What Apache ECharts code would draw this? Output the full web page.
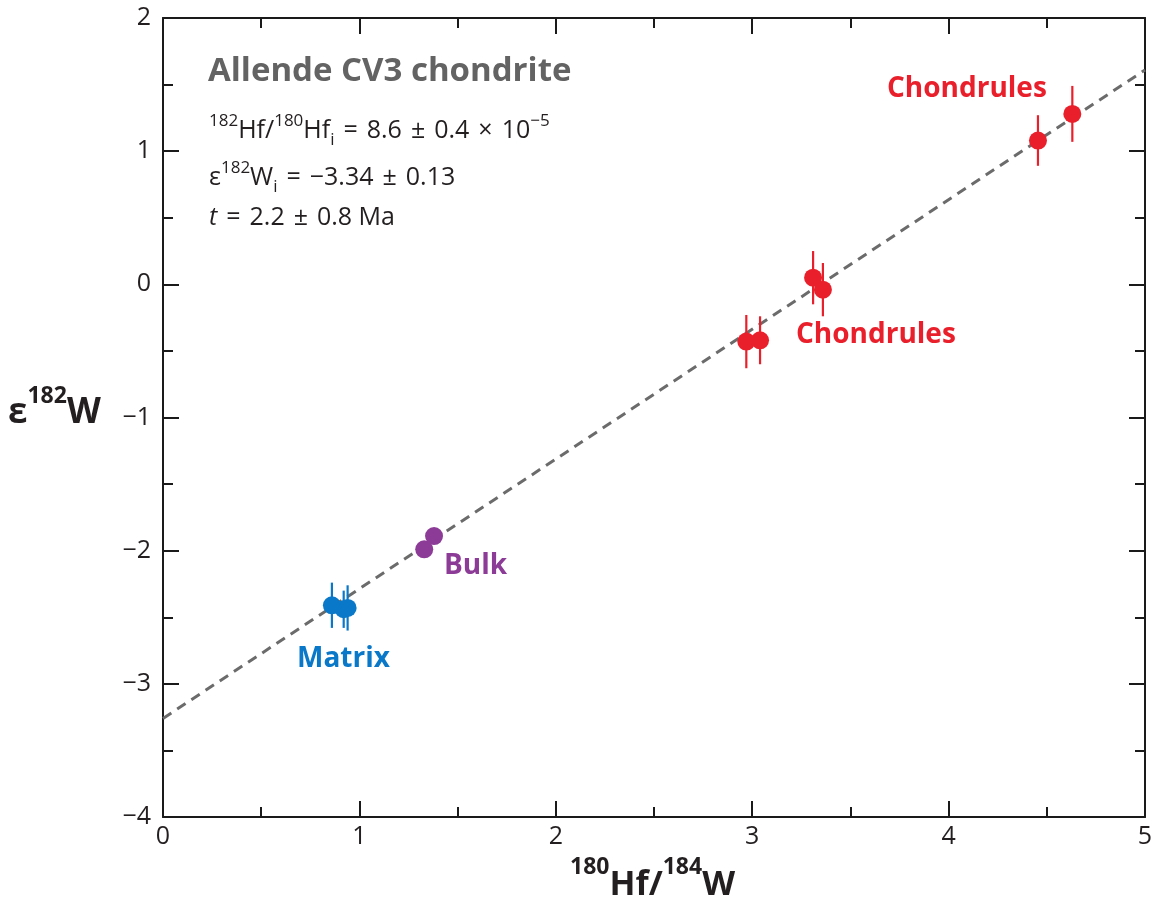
<!DOCTYPE html>
<html>
<head>
<meta charset="utf-8">
<script src="https://cdn.jsdelivr.net/npm/echarts@6/dist/echarts.min.js"></script>
<style>
html,body{margin:0;padding:0;background:#fff;}
#chart{width:1166px;height:919px;}
</style>
</head>
<body>
<div id="chart"></div>
<script>
// ---- data ----
var matrixX = [0.86, 0.92, 0.94];
var matrixY = [-2.41, -2.44, -2.43];
var matrixErr = [0.17, 0.14, 0.17];

var bulkX = [1.33, 1.38];
var bulkY = [-1.99, -1.89];

var chondX = [2.97, 3.04, 3.31, 3.36, 4.455, 4.63];
var chondY = [-0.43, -0.42, 0.05, -0.04, 1.08, 1.28];
var chondErr = [0.20, 0.18, 0.20, 0.20, 0.19, 0.21];

var fitX = [0, 5];
var fitY = [-3.26, 1.61];

var xTicks = [0, 1, 2, 3, 4, 5];
var yTicks = [-4, -3, -2, -1, 0, 1, 2];

var RED = '#e9202b', BLUE = '#0a78c8', PURPLE = '#8c3c97', GRAY = '#6b6b6b';
var FONT = 'Open Sans';

function pts(xs, ys) { return xs.map(function (x, i) { return [x, ys[i]]; }); }
function errs(xs, ys, es) { return xs.map(function (x, i) { return [x, ys[i] - es[i], ys[i] + es[i]]; }); }

function errSeries(data, color) {
  return {
    type: 'custom', data: data, z: 3, silent: true,
    renderItem: function (params, api) {
      var a = api.coord([api.value(0), api.value(1)]);
      var b = api.coord([api.value(0), api.value(2)]);
      return { type: 'line', shape: { x1: a[0], y1: a[1], x2: b[0], y2: b[1] },
               style: { stroke: color, lineWidth: 2.2 } };
    }
  };
}
function ptSeries(data, color) {
  return { type: 'scatter', data: data, symbol: 'circle', symbolSize: 18, z: 4,
           itemStyle: { color: color, opacity: 1 }, silent: true };
}

var chart = echarts.init(document.getElementById('chart'), null, { renderer: 'canvas' });

var axisCommon = {
  axisLine: { show: true, onZero: false, lineStyle: { color: '#1a1a1a', width: 2 } },
  axisTick: { show: true, inside: true, length: 16, lineStyle: { color: '#1a1a1a', width: 2 } },
  minorTick: { show: true, splitNumber: 2, length: 10, lineStyle: { color: '#1a1a1a', width: 2 } },
  splitLine: { show: false }
};

var txtN = { fontFamily: FONT, fontSize: 25, fill: '#231f20', lineHeight: 36, verticalAlign: 'middle' };
var txtS = { fontFamily: FONT, fontSize: 17, fill: '#231f20', lineHeight: 36, verticalAlign: 'top' };
var txtB = { fontFamily: FONT, fontSize: 17, fill: '#231f20', lineHeight: 36, verticalAlign: 'bottom' };
var SP = ' \u200a';

var option = {
  animation: false,
  backgroundColor: '#fff',
  grid: { left: 163, top: 18, width: 982, height: 799, containLabel: false },
  xAxis: [
    Object.assign({ type: 'value', position: 'bottom', min: 0, max: 5, interval: 1,
      axisLabel: { show: true, fontSize: 25, color: '#231f20', fontFamily: FONT, margin: 7,
        formatter: function (v) { return xTicks.indexOf(v) >= 0 ? String(v) : ''; } } }, axisCommon),
    Object.assign({ type: 'value', position: 'top', min: 0, max: 5, interval: 1,
      axisLabel: { show: false } }, axisCommon)
  ],
  yAxis: [
    Object.assign({ type: 'value', position: 'left', min: -4, max: 2, interval: 1,
      axisLabel: { show: true, fontSize: 25, color: '#231f20', fontFamily: FONT, margin: 12,
        formatter: function (v) { return yTicks.indexOf(v) >= 0 ? (v < 0 ? '\u2212' + Math.abs(v) : String(v)) : ''; } } }, axisCommon),
    Object.assign({ type: 'value', position: 'right', min: -4, max: 2, interval: 1,
      axisLabel: { show: false } }, axisCommon)
  ],
  series: [
    { type: 'line', data: pts(fitX, fitY), symbol: 'none', z: 2, silent: true,
      lineStyle: { color: GRAY, width: 3, type: [10, 7] } },
    errSeries(errs(matrixX, matrixY, matrixErr), BLUE),
    ptSeries(pts(matrixX, matrixY), BLUE),
    ptSeries(pts(bulkX, bulkY), PURPLE),
    errSeries(errs(chondX, chondY, chondErr), RED),
    ptSeries(pts(chondX, chondY), RED)
  ],
  graphic: [
    { type: 'text', left: 208, top: 55, style: { text: 'Allende CV3 chondrite', fontFamily: FONT,
        fontSize: 33, fontWeight: 'bold', fill: '#636363' } },
    { type: 'text', left: 209, top: 113, style: {
        text: '{s|182}{n|Hf/}{s|180}{n|Hf}{b|i}{n|' + SP + '=' + SP + '8.6' + SP + '\u00b1' + SP + '0.4' + SP + '\u00d7' + SP + '10}{s|\u22125}',
        rich: { n: txtN, s: txtS, b: txtB } } },
    { type: 'text', left: 209, top: 160, style: {
        text: '{n|\u03b5}{s|182}{n|W}{b|i}{n|' + SP + '=' + SP + '\u22123.34' + SP + '\u00b1' + SP + '0.13}',
        rich: { n: txtN, s: txtS, b: txtB } } },
    { type: 'text', left: 209, top: 205, style: {
        text: '{i|t}{n|' + SP + '=' + SP + '2.2' + SP + '\u00b1' + SP + '0.8 Ma}',
        rich: {
          n: { fontFamily: FONT, fontSize: 25, fill: '#231f20', lineHeight: 32 },
          i: { fontFamily: FONT, fontSize: 25, fontStyle: 'italic', fill: '#231f20', lineHeight: 32 }
        } } },
    { type: 'text', left: 887, top: 75, style: { text: 'Chondrules', fontFamily: FONT, fontSize: 28, fontWeight: 'bold', fill: RED } },
    { type: 'text', left: 796, top: 321, style: { text: 'Chondrules', fontFamily: FONT, fontSize: 28, fontWeight: 'bold', fill: RED } },
    { type: 'text', left: 444, top: 552, style: { text: 'Bulk', fontFamily: FONT, fontSize: 28, fontWeight: 'bold', fill: PURPLE } },
    { type: 'text', left: 297, top: 645, style: { text: 'Matrix', fontFamily: FONT, fontSize: 28, fontWeight: 'bold', fill: BLUE } },
    { type: 'text', left: 8, top: 385, style: {
        text: '{n|\u03b5}{s|182}{n|W}',
        rich: {
          n: { fontFamily: FONT, fontSize: 35, fontWeight: 'bold', fill: '#231f20', lineHeight: 46, verticalAlign: 'bottom' },
          s: { fontFamily: FONT, fontSize: 23, fontWeight: 'bold', fill: '#231f20', lineHeight: 46, verticalAlign: 'top' }
        } } },
    { type: 'text', left: 570, top: 856, style: {
        text: '{s|180}{n|Hf/}{s|184}{n|W}',
        rich: {
          n: { fontFamily: FONT, fontSize: 34, fontWeight: 'bold', fill: '#231f20', lineHeight: 46, verticalAlign: 'bottom' },
          s: { fontFamily: FONT, fontSize: 23, fontWeight: 'bold', fill: '#231f20', lineHeight: 46, verticalAlign: 'top' }
        } } }
  ]
};
chart.setOption(option);
</script>
</body>
</html>
